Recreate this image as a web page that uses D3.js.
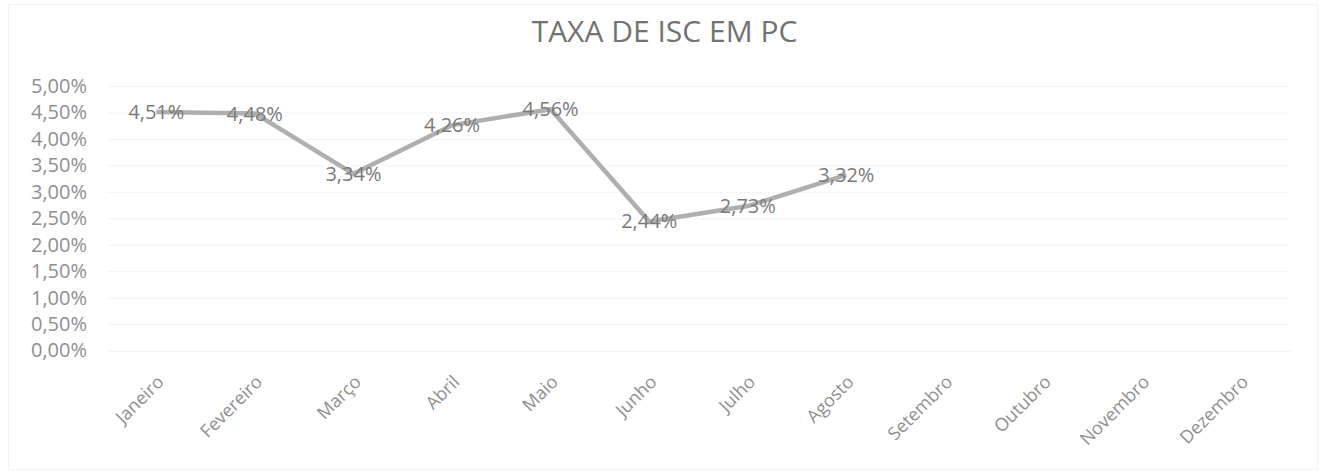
<!DOCTYPE html>
<html>
<head>
<meta charset="utf-8">
<script src="https://cdn.jsdelivr.net/npm/d3@7"></script>
<style>
  html, body { margin: 0; padding: 0; background: #fff; }
  svg { display: block; font-family: "Open Sans", sans-serif; }
</style>
</head>
<body>
<svg id="chart" width="1329" height="475"></svg>
<script>
const months = ["Janeiro", "Fevereiro", "Março", "Abril", "Maio", "Junho",
  "Julho", "Agosto", "Setembro", "Outubro", "Novembro", "Dezembro"];
const rates = [4.51, 4.48, 3.34, 4.26, 4.56, 2.44, 2.73, 3.32];
const yTicks = [0, 0.5, 1, 1.5, 2, 2.5, 3, 3.5, 4, 4.5, 5];
const title = "TAXA DE ISC EM PC";

const svg = d3.select("#chart");
const width = 1329, height = 475;
const margin = { top: 86, right: 39, bottom: 124.5, left: 107 };
const innerWidth = width - margin.left - margin.right;
const innerHeight = height - margin.top - margin.bottom;

const fmt = (v) => v.toFixed(2).replace(".", ",") + "%";

// faint outer border of the chart area
svg.append("rect")
  .attr("x", 8.5).attr("y", 4.5)
  .attr("width", width - 20).attr("height", height - 10)
  .attr("fill", "none").attr("stroke", "#f4f4f4");

svg.append("text")
  .attr("x", width / 2).attr("y", 42)
  .attr("text-anchor", "middle")
  .attr("font-size", 30)
  .attr("fill", "#727272")
  .text(title);

const x = d3.scaleBand().domain(months).range([0, innerWidth]).padding(0);
const y = d3.scaleLinear().domain([0, 5]).range([innerHeight, 0]);
const cx = (m) => x(m) + x.bandwidth() / 2;

const g = svg.append("g")
  .attr("transform", `translate(${margin.left},${margin.top})`);

// gridlines + y labels
const yAxis = g.append("g")
  .call(d3.axisLeft(y).tickValues(yTicks).tickSize(-innerWidth).tickFormat(fmt));
yAxis.select(".domain").remove();
yAxis.selectAll(".tick line").attr("stroke", "#f4f4f4");
yAxis.selectAll(".tick text")
  .attr("x", -20)
  .attr("font-size", 20)
  .attr("font-family", "Open Sans, sans-serif")
  .attr("fill", "#8f8f8f");

// x labels
const xAxis = g.append("g")
  .attr("transform", `translate(0,${innerHeight})`)
  .call(d3.axisBottom(x).tickSize(0));
xAxis.select(".domain").attr("stroke", "#f4f4f4");
xAxis.selectAll(".tick text")
  .attr("font-size", 18)
  .attr("font-family", "Open Sans, sans-serif")
  .attr("fill", "#8f8f8f")
  .attr("text-anchor", "end")
  .attr("dy", "0.35em")
  .attr("transform", "translate(2,26) rotate(-45)");

const pts = rates.map((v, i) => [cx(months[i]), y(v)]);

g.append("path")
  .datum(pts)
  .attr("fill", "none")
  .attr("stroke", "#afafaf")
  .attr("stroke-width", 4.5)
  .attr("stroke-linejoin", "round")
  .attr("d", d3.line());

g.selectAll(".lbl")
  .data(rates)
  .join("text")
  .attr("class", "lbl")
  .attr("x", (d, i) => cx(months[i]))
  .attr("y", (d) => y(d))
  .attr("dy", "0.35em")
  .attr("text-anchor", "middle")
  .attr("font-size", 20)
  .attr("fill", "#7a7a7a")
  .text(fmt);
</script>
</body>
</html>
